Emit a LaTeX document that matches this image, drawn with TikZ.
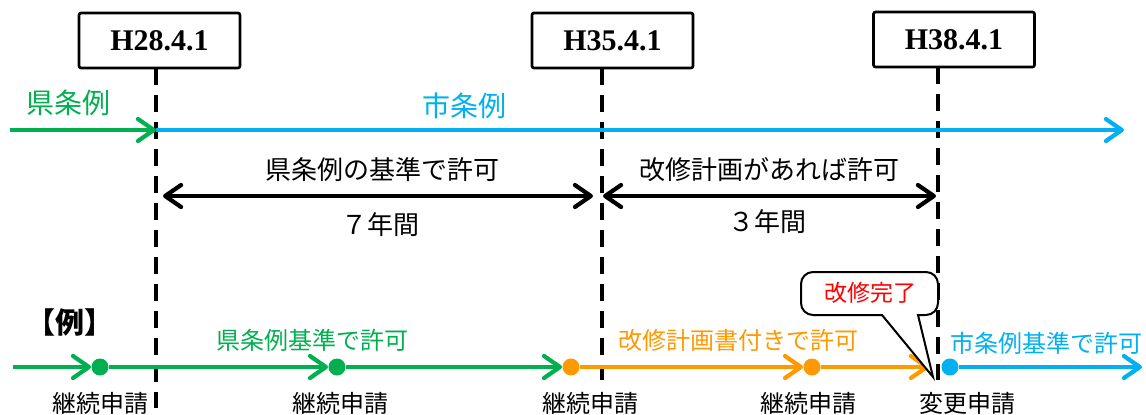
\documentclass[tikz,border=0pt]{standalone}
\usepackage{fontspec}
\setmainfont{Liberation Serif}
\newfontfamily\jp{Noto Sans CJK JP}
\usetikzlibrary{arrows.meta}
\definecolor{cgreen}{HTML}{00B050}
\definecolor{cblue}{HTML}{00B0F0}
\definecolor{corange}{HTML}{FF9900}
\definecolor{cred}{HTML}{FF0000}
\tikzset{
  datebox/.style={draw=black, line width=1.3pt, rounded corners=1pt, fill=white,
    minimum width=80.5pt, minimum height=27.5pt, inner sep=0pt,
    font=\fontsize{15}{18}\selectfont\bfseries},
  vline/.style={draw=black, line width=1.7pt, dash pattern=on 8.5pt off 5pt},
  barb/.style={-{Straight Barb[length=8pt,width=11pt,line cap=round,line join=round]}},
  dbarb/.style={{Straight Barb[length=8pt,width=11pt,line cap=round,line join=round]}-{Straight Barb[length=8pt,width=11pt,line cap=round,line join=round]}},
  thick arrow/.style={line width=2.1pt},
  dot/.style={circle, inner sep=0pt, minimum size=8.5pt},
  jlabel/.style={inner sep=0pt, font=\jp\fontsize{#1}{#1}\selectfont},
  jlabel/.default=12,
  callout/.style={draw=black, line width=1pt, fill=white},
}
\begin{document}
\begin{tikzpicture}[x=0.5pt, y=-0.5pt]
\useasboundingbox (0,0) rectangle (1146,414);

% date boxes
\node[datebox] (b28) at (159.5,40.5) {H28.4.1};
\node[datebox] (b35) at (612.5,40.5) {H35.4.1};
\node[datebox] (b38) at (954,39.5) {H38.4.1};

% dashed verticals
\coordinate (t28) at (156,68);   \coordinate (e28) at (156,408);
\coordinate (t35) at (602,68);   \coordinate (e35) at (602,380);
\coordinate (t38) at (938,67);   \coordinate (e38) at (938,380);
\draw[vline] (t28) -- (e28);
\draw[vline] (t35) -- (e35);
\draw[vline] (t38) -- (e38);

% top ordinance arrows
\coordinate (g0) at (10,130);
\coordinate (v28) at (156,130);
\coordinate (bend) at (1124,130);
\draw[thick arrow, cgreen, barb] (g0) -- (v28);
\draw[thick arrow, cblue, barb] (v28) -- (bend);
\node[jlabel=14, text=cgreen] (kenj) at (68,103) {県条例};
\node[jlabel=14, text=cblue] (shij) at (464,106) {市条例};

% period arrows
\coordinate (p1a) at (163,196); \coordinate (p1b) at (593,196);
\coordinate (p2a) at (603,196); \coordinate (p2b) at (936,196);
\draw[thick arrow, black, dbarb] (p1a) -- (p1b);
\draw[thick arrow, black, dbarb] (p2a) -- (p2b);
\node[jlabel=13] (per1t) at (382,170) {県条例の基準で許可};
\node[jlabel=13] (per1b) at (380,225) {７年間};
\node[jlabel=13] (per2t) at (769,170) {改修計画があれば許可};
\node[jlabel=13] (per2b) at (767,222) {３年間};

% example timeline
\node[inner sep=0pt, font=\jp\bfseries\fontsize{14.5}{14.5}\selectfont] (rei) at (70,322) {【例】};
\coordinate (s0) at (13,367);
\node[dot, fill=cgreen] (d1) at (100,367) {};
\node[dot, fill=cgreen] (d2) at (337,367) {};
\node[dot, fill=corange] (d3) at (571,367) {};
\node[dot, fill=corange] (d4) at (812,367) {};
\coordinate (o5) at (929,367);
\node[dot, fill=cblue] (d6) at (950,367) {};
\coordinate (bend2) at (1142,367);
\draw[thick arrow, cgreen, barb] (s0) -- (d1);
\draw[thick arrow, cgreen, barb] (d1) -- (d2);
\draw[thick arrow, cgreen, barb] (d2) -- (d3);
\draw[thick arrow, corange, barb] (d3) -- (d4);
\draw[thick arrow, corange, barb] (d4) -- (o5);
\draw[thick arrow, cblue, barb] (d6) -- (bend2);

\node[jlabel=12, text=cgreen] (l1) at (312,340) {県条例基準で許可};
\node[jlabel=12, text=corange] (l2) at (738,340) {改修計画書付きで許可};
\node[jlabel=12, text=cblue] (l3) at (1046,343) {市条例基準で許可};

\node[jlabel=12] (a1) at (100,403) {継続申請};
\node[jlabel=12] (a2) at (340,403) {継続申請};
\node[jlabel=12] (a3) at (590,403) {継続申請};
\node[jlabel=12] (a4) at (808,403) {継続申請};
\node[jlabel=12] (a5) at (967,403) {変更申請};

% callout
\coordinate (ctip) at (933,377);
\draw[callout] (882,315) -- (ctip) -- (918,315)
  [rounded corners=6] -- (938,315) -- (938,272) -- (801,272) -- (801,315) [sharp corners] -- cycle;
\node[jlabel=11.5, text=cred] (kanryo) at (870,293) {改修完了};
\end{tikzpicture}
\end{document}
